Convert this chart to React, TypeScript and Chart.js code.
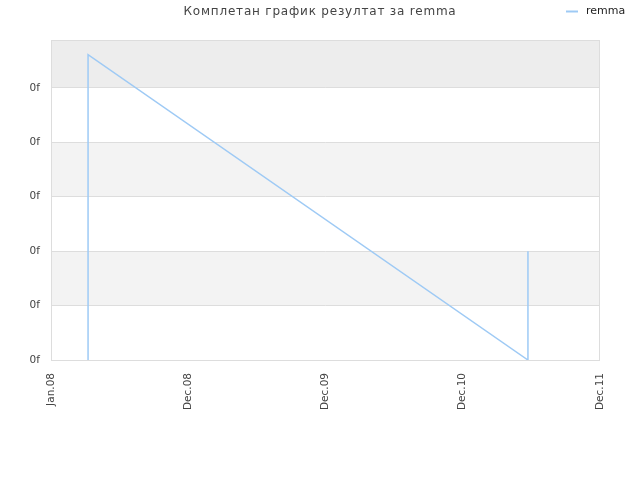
import React, { useEffect, useRef } from "react";
import { Chart, registerables } from "chart.js";

Chart.register(...registerables);

const titleText = "Комплетан график резултат за remma";
const seriesName = "remma";
const xTickLabels = ["Jan.08", "Dec.08", "Dec.09", "Dec.10", "Dec.11"];
const yTickLabels = ["0f", "0f", "0f", "0f", "0f", "0f"];
const xValues = [0.27, 0.27, 3.475, 3.475];
const yValues = [0, 5.61, 0, 2.0];

const FONT = "'DejaVu Sans', sans-serif";

const bandsPlugin = {
  id: "bands",
  beforeDraw(chart: any) {
    const { ctx, chartArea } = chart;
    const y = chart.scales.y;
    ctx.save();
    ctx.fillStyle = "#ffffff";
    ctx.fillRect(0, 0, chart.width, chart.height);
    const ticks = y.ticks.map((t: any) => t.value);
    for (let i = 0; i < ticks.length; i++) {
      const lo = ticks[i];
      const hiPix = i + 1 < ticks.length ? y.getPixelForValue(ticks[i + 1]) : chartArea.top;
      const loPix = y.getPixelForValue(lo);
      if (i % 2 === 1) {
        ctx.fillStyle = i === ticks.length - 1 ? "#ededed" : "#f3f3f3";
        ctx.fillRect(chartArea.left, hiPix, chartArea.right - chartArea.left, loPix - hiPix);
      }
    }
    ctx.restore();
  },
  afterDraw(chart: any) {
    const { ctx, chartArea } = chart;
    ctx.save();
    ctx.strokeStyle = "#dddddd";
    ctx.lineWidth = 1;
    ctx.strokeRect(chartArea.left + 0.5, chartArea.top + 0.5, chartArea.right - chartArea.left - 1, chartArea.bottom - chartArea.top);
    // title
    ctx.fillStyle = "#444444";
    ctx.font = `12px ${FONT}`;
    (ctx as any).letterSpacing = "0.8px";
    ctx.textAlign = "center";
    ctx.textBaseline = "middle";
    ctx.fillText(titleText, 320, 12);
    (ctx as any).letterSpacing = "0px";
    // legend
    ctx.strokeStyle = "#9ecaf5";
    ctx.lineWidth = 2;
    ctx.beginPath();
    ctx.moveTo(566, 11.5);
    ctx.lineTo(578, 11.5);
    ctx.stroke();
    ctx.fillStyle = "#222222";
    ctx.font = `11px ${FONT}`;
    ctx.textAlign = "left";
    ctx.fillText(seriesName, 586, 11);
    ctx.restore();
  },
};

export default function App() {
  const ref = useRef<HTMLCanvasElement>(null);
  useEffect(() => {
    document.body.style.margin = "0";
    const chart = new Chart(ref.current!, {
      type: "line",
      data: {
        datasets: [
          {
            label: seriesName,
            data: xValues.map((x, i) => ({ x, y: yValues[i] })),
            borderColor: "#9ecaf5",
            borderWidth: 1.5,
            pointRadius: 0,
            fill: false,
            tension: 0,
          },
        ],
      },
      options: {
        animation: false,
        responsive: false,
        layout: { padding: { left: 0, right: 40, top: 40, bottom: 0 } },
        plugins: { legend: { display: false }, title: { display: false }, tooltip: { enabled: false } },
        scales: {
          x: {
            type: "linear",
            min: 0,
            max: 4,
            afterBuildTicks(scale: any) {
              scale.ticks = xTickLabels.map((_, i) => ({ value: i }));
            },
            afterFit(scale: any) {
              scale.height = 120;
            },
            grid: { display: false },
            border: { display: false },
            ticks: {
              autoSkip: false,
              maxRotation: 90,
              minRotation: 90,
              padding: 5,
              color: "#444444",
              font: { family: FONT, size: 10.5 },
              callback: (v: any) => xTickLabels[Math.round(v)] ?? "",
            },
          },
          y: {
            min: 0,
            max: 5.88,
            afterBuildTicks(scale: any) {
              scale.ticks = yTickLabels.map((_, i) => ({ value: i }));
            },
            afterFit(scale: any) {
              scale.width = 51;
            },
            grid: { color: "#dddddd", drawTicks: false },
            border: { display: false },
            ticks: {
              autoSkip: false,
              padding: 11,
              color: "#444444",
              font: { family: FONT, size: 10.5 },
              callback: (v: any) => yTickLabels[Math.round(v)] ?? "",
            },
          },
        },
      },
      plugins: [bandsPlugin],
    });
    return () => chart.destroy();
  }, []);
  return <canvas ref={ref} width={640} height={480} style={{ display: "block" }} />;
}
